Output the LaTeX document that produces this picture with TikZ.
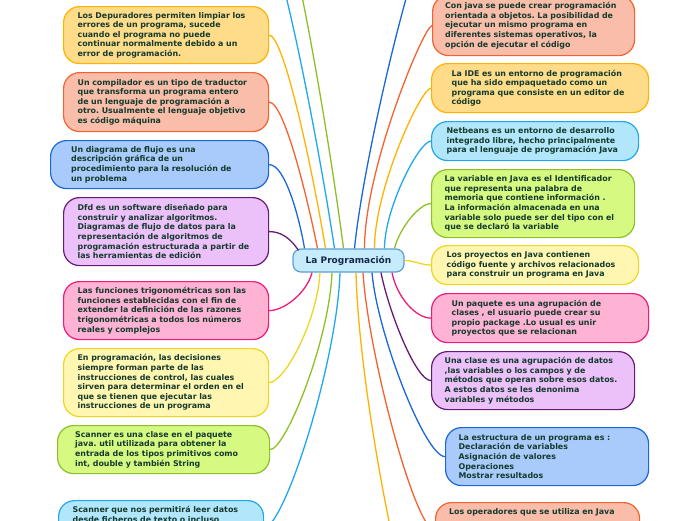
\documentclass[tikz,border=0pt]{standalone}
\usepackage{fontspec}
\setmainfont{DejaVu Sans}
\usepackage{tikz}
\definecolor{ink}{RGB}{20,58,44}
\definecolor{progink}{RGB}{22,40,70}
\definecolor{orngfill}{HTML}{FFDC8A}\definecolor{orngline}{HTML}{FFB300}
\definecolor{redfill}{HTML}{F9BDAA}\definecolor{redline}{HTML}{F4622E}
\definecolor{bluefill}{HTML}{A8CBFC}\definecolor{blueline}{HTML}{1C66D9}
\definecolor{purpfill}{HTML}{ECC1FA}\definecolor{purpline}{HTML}{651A75}
\definecolor{pinkfill}{HTML}{FEB2D4}\definecolor{pinkline}{HTML}{F01A78}
\definecolor{yellfill}{HTML}{FFF6B2}\definecolor{yellline}{HTML}{EED520}
\definecolor{grenfill}{HTML}{D6F981}\definecolor{grenline}{HTML}{8CC026}
\definecolor{cyanfill}{HTML}{B2E6FB}\definecolor{cyanline}{HTML}{1FA8EC}
\definecolor{progfill}{HTML}{C6EBFB}\definecolor{progline}{HTML}{5A9FD4}
\newcommand{\ideafont}{\fontsize{7.9}{9.6}\selectfont\bfseries\frenchspacing}
\tikzset{
	idea/.style={rounded corners=16pt, line width=1.2pt, text width=177pt, align=left,
		anchor=north west, inner ysep=3pt, font=\ideafont, text=ink},
	orng/.style={fill=orngfill, draw=orngline},
	redd/.style={fill=redfill, draw=redline},
	blue/.style={fill=bluefill, draw=blueline},
	purp/.style={fill=purpfill, draw=purpline},
	pink/.style={fill=pinkfill, draw=pinkline},
	yell/.style={fill=yellfill, draw=yellline},
	gren/.style={fill=grenfill, draw=grenline},
	cyan/.style={fill=cyanfill, draw=cyanline},
	central/.style={rounded corners=8pt, line width=1.2pt, fill=progfill, draw=progline,
		minimum width=111pt, minimum height=23pt, inner sep=0pt,
		font=\fontsize{9}{10}\selectfont\bfseries, text=progink},
	link/.style={line width=1.3pt}
}

\begin{document}
\begin{tikzpicture}[x=1pt,y=-1pt]
	\useasboundingbox (0,0) rectangle (696,520);
	\clip (0,0) rectangle (696,520);
	%ideas on the left
	\node[idea,orng,inner xsep=14pt,minimum height=57pt] (dep) at (63,6) {Los Depuradores permiten limpiar los\\errores de un programa, sucede\\cuando el programa no puede\\continuar normalmente debido a un\\error de programación.};
	\node[idea,redd,inner xsep=14pt,minimum height=59pt] (comp) at (63,72) {Un compilador es un tipo de traductor\\que transforma un programa entero\\de un lenguaje de programación a\\otro. Usualmente el lenguaje objetivo\\es código máquina};
	\node[idea,blue,inner xsep=20.5pt,minimum height=48pt] (flujo) at (50,140) {Un diagrama de flujo es una\\descripción gráfica de un\\procedimiento para la resolución de\\un problema};
	\node[idea,purp,inner xsep=14pt,minimum height=68pt] (dfd) at (63,197) {Dfd es un software diseñado para\\construir y analizar algoritmos.\\Diagramas de flujo de datos para la\\representación de algoritmos de\\programación estructurada a partir de\\las herramientas de edición};
	\node[idea,pink,inner xsep=14pt,minimum height=58pt] (trig) at (63,281) {Las funciones trigonométricas son las\\funciones establecidas con el fin de\\extender la definición de las razones\\trigonométricas a todos los números\\reales y complejos};
	\node[idea,yell,inner xsep=14pt,minimum height=68pt] (decis) at (63,348) {En programación, las decisiones\\siempre forman parte de las\\instrucciones de control, las cuales\\sirven para determinar el orden en el\\que se tienen que ejecutar las\\instrucciones de un programa};
	\node[idea,gren,inner xsep=17.5pt,minimum height=48pt] (scan) at (57,425) {Scanner es una clase en el paquete\\java. util utilizada para obtener la\\entrada de los tipos primitivos como\\int, double y también String};
	\node[idea,cyan,inner xsep=14pt,inner ysep=6pt] (leer) at (58,500) {Scanner que nos permitirá leer datos\\desde ficheros de texto o incluso\par\vspace*{26pt}};
	%ideas on the right
	\node[idea,redd,inner xsep=12.5pt,minimum height=60pt] (java) at (432,-5) {Con java se puede crear programación\\orientada a objetos. La posibilidad de\\ejecutar un mismo programa en\\diferentes sistemas operativos, la\\opción de ejecutar el código};
	\node[idea,orng,inner xsep=20pt,minimum height=49pt] (ide) at (431,63) {La IDE es un entorno de programación\\que ha sido empaquetado como un\\programa que consiste en un editor de\\código};
	\node[idea,cyan,inner xsep=15pt,minimum height=39pt] (net) at (431,121) {Netbeans es un entorno de desarrollo\\integrado libre, hecho principalmente\\para el lenguaje de programación Java};
	\node[idea,gren,inner xsep=13pt,minimum height=68pt] (var) at (431,169) {La variable en Java es el Identificador\\que representa una palabra de\\memoria que contiene información .\\La información almacenada en una\\variable solo puede ser del tipo con el\\que se declaró la variable};
	\node[idea,yell,inner xsep=15pt,minimum height=39pt] (proy) at (431,245) {Los proyectos en Java contienen\\código fuente y archivos relacionados\\para construir un programa en Java};
	\node[idea,pink,inner xsep=20pt,minimum height=49pt] (paq) at (431,293) {Un paquete es una agrupación de\\clases , el usuario puede crear su\\propio package .Lo usual es unir\\proyectos que se relacionan};
	\node[idea,purp,inner xsep=13pt,minimum height=58pt] (clase) at (431,351) {Una clase es una agrupación de datos\\,las variables o los campos y de\\métodos que operan sobre esos datos.\\A estos datos se les denonima\\variables y métodos};
	\node[idea,blue,inner xsep=13pt,minimum height=58pt] (estr) at (445,427) {La estructura de un programa es :\\Declaración de variables\\Asignación de valores\\Operaciones\\Mostrar resultados};
	\node[idea,redd,inner xsep=13.5pt,inner ysep=6pt] (oper) at (435,502) {Los operadores que se utiliza en Java\par\vspace*{36pt}};
	%centre
	\node[central] (prog) at (348.5,260.5) {La Programación};
	%branches that leave the page
	\coordinate (upA) at (262,-70);
	\coordinate (upB) at (270,-110);
	\coordinate (upC) at (436,-80);
	\coordinate (dnA) at (440,680);
	
	\draw[link,purpline] ([xshift=-50pt,yshift=-2pt]prog.north) .. controls +(-8,-12) and +(12,0) .. (dfd.east);
	\draw[link,blueline] ([xshift=-44pt]prog.north) .. controls +(-5,-30) and +(16,0) .. (flujo.east);
	\draw[link,redline] ([xshift=-31pt]prog.north) .. controls +(-10,-50) and +(15,0) .. (comp.east);
	\draw[link,orngline] ([xshift=-23pt]prog.north) .. controls +(-12,-73) and +(15,0) .. (dep.east);
	\draw[link,cyanline] ([xshift=-14pt]prog.north) .. controls +(-15,-99) and +(16,0) .. (upA);
	\draw[link,grenline] ([xshift=-5pt]prog.north) .. controls +(-14,-109) and +(18,0) .. (upB);
	\draw[link,blueline] ([xshift=6pt]prog.north) .. controls +(10,-99) and +(-15,0) .. (upC);
	\draw[link,redline] ([xshift=16pt]prog.north) .. controls +(0,-80) and +(-8,0) .. (java.west);
	\draw[link,orngline] ([xshift=26pt]prog.north) .. controls +(0,-60) and +(-10,0) .. (ide.west);
	\draw[link,cyanline] ([xshift=36pt]prog.north) .. controls +(0,-40) and +(-12,0) .. (net.west);
	\draw[link,grenline] ([xshift=46pt]prog.north) .. controls +(5,-20) and +(-12,0) .. (var.west);
	\draw[link,yellline] (prog.east) .. controls +(10,0) and +(-10,0) .. (proy.west);
	\draw[link,pinkline] ([xshift=43.5pt]prog.south) .. controls +(5,25) and +(-15,0) .. (paq.west);
	\draw[link,purpline] ([xshift=32.5pt]prog.south) .. controls +(8,40) and +(-15,0) .. (clase.west);
	\draw[link,blueline] ([xshift=23.5pt]prog.south) .. controls +(5,60) and +(-20,0) .. (estr.west);
	\draw[link,redline] ([xshift=14.5pt]prog.south) .. controls +(5,80) and +(-20,0) .. (oper.west);
	\draw[link,orngline] ([xshift=7.5pt]prog.south) .. controls +(3,130) and +(-25,0) .. (dnA);
	\draw[link,pinkline] ([xshift=-36.5pt]prog.south) .. controls +(-5,20) and +(15,0) .. (trig.east);
	\draw[link,yellline] ([xshift=-28.5pt]prog.south) .. controls +(-3,50) and +(15,0) .. (decis.east);
	\draw[link,grenline] ([xshift=-16.5pt]prog.south) .. controls +(-3,70) and +(15,0) .. (scan.east);
	\draw[link,cyanline] ([xshift=-8.5pt]prog.south) .. controls +(-3,90) and +(20,0) .. (leer.east);
\end{tikzpicture}
\end{document}
